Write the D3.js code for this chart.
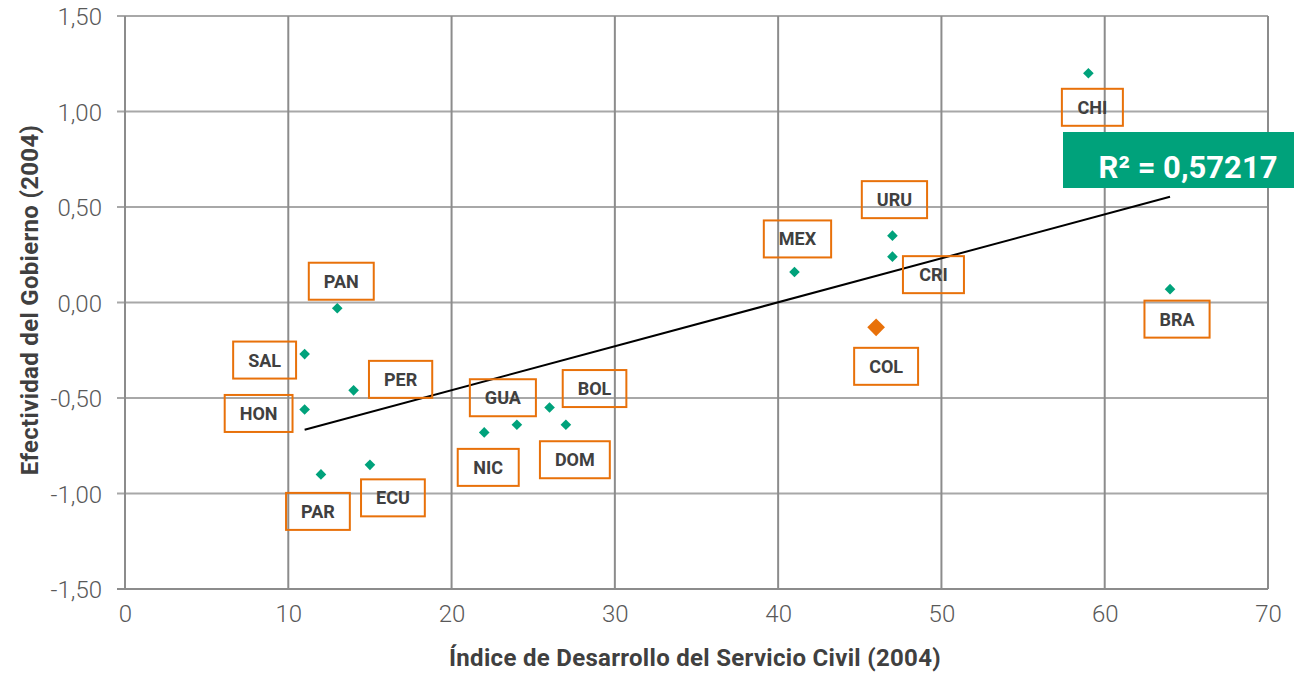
<!DOCTYPE html>
<html>
<head>
<meta charset="utf-8">
<script src="https://cdn.jsdelivr.net/npm/d3@7"></script>
<style>
  body { margin: 0; background: #fff; }
  text { font-family: Roboto, "Open Sans", sans-serif; }
</style>
</head>
<body>
<div id="chart"></div>
<script>
// data
var countries = ["CHI", "BRA", "PAN", "SAL", "PER", "HON", "PAR", "ECU", "NIC", "GUA", "BOL", "DOM", "MEX", "URU", "CRI"];
var servicioCivil = [59, 64, 13, 11, 14, 11, 12, 15, 22, 24, 26, 27, 41, 47, 47];
var efectividad = [1.20, 0.07, -0.03, -0.27, -0.46, -0.56, -0.90, -0.85, -0.68, -0.64, -0.55, -0.64, 0.16, 0.35, 0.24];

var colName = ["COL"];
var colX = [46];
var colY = [-0.13];

var xTicks = [0, 10, 20, 30, 40, 50, 60, 70];
var yTicks = [-1.5, -1.0, -0.5, 0, 0.5, 1.0, 1.5];
var r2Label = "R² = 0,57217";

// label box offsets from each point (px)
var labelOffset = {
  CHI: [4, 34], BRA: [7, 30], PAN: [4, -27], SAL: [-40, 6], PER: [47, -11],
  HON: [-46, 4], PAR: [-3, 37], ECU: [23, 33], NIC: [4, 35], GUA: [-14, -27],
  BOL: [45, -19], DOM: [9, 35], MEX: [3, -33], URU: [2, -36], CRI: [41, 18],
  COL: [10, 39]
};

var svgWidth = 1294;
var svgHeight = 675;
var margin = { top: 16, right: 26, bottom: 86, left: 125 };
var width = svgWidth - margin.left - margin.right;
var height = svgHeight - margin.top - margin.bottom;

var green = "#00A27B";
var orange = "#E8710A";

var svg = d3.select("#chart").append("svg")
  .attr("width", svgWidth)
  .attr("height", svgHeight);

var chartGroup = svg.append("g")
  .attr("transform", `translate(${margin.left}, ${margin.top})`);

var x = d3.scaleLinear().domain([0, 70]).range([0, width]);
var y = d3.scaleLinear().domain([-1.5, 1.5]).range([height, 0]);

var locale = d3.formatLocale({ decimal: ",", thousands: ".", grouping: [3], currency: ["", ""], minus: "-" });
var fmt = locale.format(".2f");

// gridlines
chartGroup.selectAll(".hgrid").data(yTicks).enter().append("line")
  .attr("x1", -8).attr("x2", width)
  .attr("y1", d => y(d)).attr("y2", d => y(d))
  .attr("stroke", d => d === -1.5 ? "#8c8c8c" : "#a8a8a8")
  .attr("stroke-width", 2);

chartGroup.selectAll(".vgrid").data(xTicks).enter().append("line")
  .attr("x1", d => x(d)).attr("x2", d => x(d))
  .attr("y1", 0).attr("y2", height)
  .attr("stroke", "#8c8c8c")
  .attr("stroke-width", 2);

// axes (labels only)
var leftAxis = d3.axisLeft(y).tickValues(yTicks).tickFormat(fmt).tickSize(0).tickPadding(23);
var bottomAxis = d3.axisBottom(x).tickValues(xTicks).tickSize(0).tickPadding(16);

var gy = chartGroup.append("g").call(leftAxis);
var gx = chartGroup.append("g").attr("transform", `translate(0, ${height})`).call(bottomAxis);
[gx, gy].forEach(function(g) {
  g.select(".domain").remove();
  g.selectAll("text")
    .attr("font-family", "Roboto, sans-serif")
    .attr("font-size", "24px")
    .attr("font-weight", 300)
    .attr("fill", "#595959");
});
gy.selectAll("text").attr("dy", "0.36em");

// trend line (least squares over all points)
var allX = servicioCivil.concat(colX);
var allY = efectividad.concat(colY);
var mx = d3.mean(allX), my = d3.mean(allY);
var sxy = d3.sum(allX, (v, i) => (v - mx) * (allY[i] - my));
var sxx = d3.sum(allX, v => (v - mx) * (v - mx));
var slope = sxy / sxx;
var intercept = my - slope * mx;
var xMin = d3.min(allX), xMax = d3.max(allX);

chartGroup.append("line")
  .attr("x1", x(xMin)).attr("y1", y(intercept + slope * xMin))
  .attr("x2", x(xMax)).attr("y2", y(intercept + slope * xMax))
  .attr("stroke", "#000")
  .attr("stroke-width", 2);

// label boxes
function drawLabel(name, px, py) {
  var off = labelOffset[name];
  var cx = px + off[0], cy = py + off[1];
  var g = chartGroup.append("g");
  var t = g.append("text")
    .attr("x", cx).attr("y", cy)
    .attr("text-anchor", "middle")
    .attr("dy", "0.36em")
    .attr("font-size", "18px")
    .attr("font-weight", 700)
    .attr("fill", "#404040")
    .text(name);
  var w = Math.max(61, t.node().getComputedTextLength() + 30);
  g.insert("rect", "text")
    .attr("x", cx - w / 2).attr("y", cy - 18.5)
    .attr("width", w).attr("height", 37)
    .attr("fill", "none")
    .attr("stroke", orange)
    .attr("stroke-width", 2);
}

countries.forEach(function(c, i) {
  drawLabel(c, x(servicioCivil[i]), y(efectividad[i]));
});
colName.forEach(function(c, i) {
  drawLabel(c, x(colX[i]), y(colY[i]));
});

// points
var diamondSmall = d3.symbol().type(d3.symbolDiamond2).size(72);
var diamondBig = d3.symbol().type(d3.symbolDiamond2).size(200);

chartGroup.selectAll(".pt").data(countries).enter().append("path")
  .attr("d", diamondSmall)
  .attr("transform", (d, i) => `translate(${x(servicioCivil[i])}, ${y(efectividad[i])})`)
  .attr("fill", green);

chartGroup.selectAll(".col").data(colName).enter().append("path")
  .attr("d", diamondBig)
  .attr("transform", (d, i) => `translate(${x(colX[i])}, ${y(colY[i])})`)
  .attr("fill", orange);

// R² box
svg.append("rect")
  .attr("x", 1063).attr("y", 132)
  .attr("width", 231).attr("height", 56)
  .attr("fill", green);
svg.append("text")
  .attr("x", 1188).attr("y", 178)
  .attr("text-anchor", "middle")
  .attr("font-size", "31px")
  .attr("font-weight", 700)
  .attr("fill", "#fff")
  .text(r2Label);

// axis titles
svg.append("text")
  .attr("x", 695).attr("y", 666)
  .attr("text-anchor", "middle")
  .attr("font-size", "24px")
  .attr("font-weight", 700)
  .attr("letter-spacing", "0.3px")
  .attr("fill", "#404040")
  .text("Índice de Desarrollo del Servicio Civil (2004)");

svg.append("text")
  .attr("transform", "translate(30, 300) rotate(-90)")
  .attr("text-anchor", "middle")
  .attr("dy", "0.35em")
  .attr("font-size", "24px")
  .attr("font-weight", 700)
  .attr("letter-spacing", "0.3px")
  .attr("fill", "#404040")
  .text("Efectividad del Gobierno (2004)");
</script>
</body>
</html>
